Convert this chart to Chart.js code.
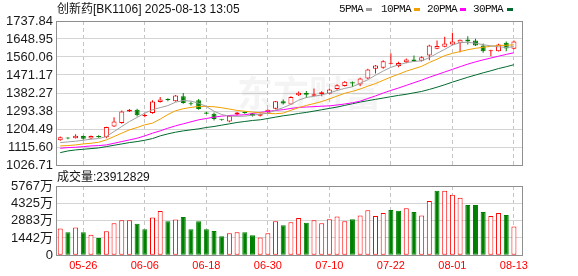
<!DOCTYPE html>
<html>
<head>
<meta charset="utf-8">
<script src="https://cdn.jsdelivr.net/npm/chart.js@4.4.1/dist/chart.umd.min.js"></script>
<style>
  body { margin: 0; background: #fff; }
  #box { position: relative; width: 578px; height: 276px; overflow: hidden; }
  #box canvas { position: absolute; left: 0; top: 0; }
  .txt { position: absolute; font: 12px "Liberation Sans", "Noto Sans CJK SC", sans-serif; color: #111; white-space: nowrap; line-height: 14px; }
  .leg { font-family: "Liberation Mono", "Noto Sans CJK SC", monospace; font-size: 11px; letter-spacing: -0.6px; }
  .sw { position: absolute; width: 6px; height: 3px; top: 8px; }
</style>
</head>
<body>
<div id="box">
  <canvas id="kline" width="578" height="276"></canvas>
  <canvas id="vol" width="578" height="276"></canvas>
  <div class="txt" style="left:57px;top:2px">创新药[BK1106] 2025-08-13 13:05</div>
  <div class="txt leg" style="left:339px;top:2px">5PMA</div>
  <div class="sw" style="left:366px;background:#a0a0a0"></div>
  <div class="txt leg" style="left:381px;top:2px">10PMA</div>
  <div class="sw" style="left:414px;background:#f0a000"></div>
  <div class="txt leg" style="left:427px;top:2px">20PMA</div>
  <div class="sw" style="left:460px;background:#ff00ff"></div>
  <div class="txt leg" style="left:473px;top:2px">30PMA</div>
  <div class="sw" style="left:507px;background:#006a30"></div>
  <div class="txt" style="left:57px;top:170px">成交量:23912829</div>
</div>
<script>
const dates = ['05-21','05-22','05-23','05-26','05-27','05-28','05-29','05-30','06-03','06-04',
  '06-05','06-06','06-09','06-10','06-11','06-12','06-13','06-16','06-17','06-18',
  '06-19','06-20','06-23','06-24','06-25','06-26','06-27','06-30','07-01','07-02',
  '07-03','07-04','07-07','07-08','07-09','07-10','07-11','07-14','07-15','07-16',
  '07-17','07-18','07-21','07-22','07-23','07-24','07-25','07-28','07-29','07-30',
  '07-31','08-01','08-04','08-05','08-06','08-07','08-08','08-11','08-12','08-13'];

const open = [1149,1161,1159,1170,1158,1170,1164,1217,1234,1291,1300,1269,1283,1338,1351,1341,1366,1330,1346,1286,
  1280,1252,1242,1276,1289,1280,1270,1288,1305,1342,1326,1371,1382,1369,1376,1379,1402,1417,1435,1424,
  1454,1502,1507,1527,1515,1534,1548,1541,1568,1601,1611,1622,1631,1647,1642,1617,1588,1589,1631,1601];
const high = [1167,1164,1179,1172,1173,1174,1216,1263,1296,1303,1305,1280,1347,1362,1356,1372,1382,1340,1353,1290,
  1286,1253,1273,1288,1291,1284,1281,1302,1343,1350,1366,1390,1392,1404,1391,1405,1425,1441,1439,1457,
  1502,1521,1544,1578,1536,1553,1568,1564,1620,1642,1660,1680,1647,1663,1650,1627,1596,1626,1637,1641];
const low = [1147,1154,1157,1151,1155,1161,1159,1214,1230,1288,1266,1262,1280,1335,1342,1339,1329,1320,1300,1277,
  1247,1245,1238,1273,1280,1266,1266,1281,1302,1326,1325,1368,1357,1366,1366,1376,1398,1414,1412,1415,
  1451,1478,1502,1524,1510,1529,1536,1538,1544,1598,1608,1619,1584,1622,1614,1581,1564,1587,1589,1598];
const close = [1164,1158,1171,1156,1170,1164,1214,1242,1291,1300,1272,1270,1340,1350,1348,1370,1333,1327,1303,1280,
  1254,1250,1270,1286,1284,1270,1279,1300,1341,1331,1363,1383,1374,1376,1386,1399,1420,1438,1429,1454,
  1498,1518,1539,1532,1530,1548,1539,1559,1617,1614,1627,1637,1645,1637,1617,1589,1594,1622,1602,1636];

// volume in 万
const volume = [2222,1913,2307,1913,1716,1435,1997,2672,2926,2926,2616,2166,3151,3685,2841,2982,3179,2166,2841,2166,
  2025,1575,1829,1913,1913,1660,1491,1829,2841,2504,2757,3094,2701,2926,2672,3010,3235,2841,3010,3320,
  3741,3263,3516,3770,3713,3910,3601,3320,4529,5373,5373,5035,4782,4192,4192,3601,3263,3516,3348,2391.2829];

const ma5 = [1137.4,1140.7,1144.1,1149.0,1154.0,1157.3,1167.2,1192.0,1216.8,1241.6,1261.5,1283.0,1299.5,1310,1320,1337,1345,1342,1332,1316,
  1292,1276,1268,1267,1268,1273,1277,1283,1297,1310,1326,1347,1360,1366,1373,1382,1395,1405,1413,1430,
  1448,1470,1491,1509,1521,1532,1538,1541,1557,1578,1598,1619,1631,1633,1628,1621,1615,1611,1607,1611];
const ma10 = [1120.9,1122.6,1125.9,1130.8,1134.1,1139.1,1150.7,1167.2,1183.8,1200.3,1211.9,1225.1,1233.4,1253.2,1276,1294.6,1304.5,1311.1,1316.1,1316.1,
  1314.4,1309.5,1302.9,1296.2,1292,1288.0,1284.6,1281.3,1280,1283,1297,1310,1321,1330,1340,1353,1367,1381,1390,1402,
  1416,1429,1445,1461,1475,1490,1502,1514,1533,1549,1567,1578,1587,1596,1603,1608,1613,1617,1618,1620];
const ma20 = [1109.3,1112.6,1114.3,1117.6,1120.9,1122.6,1125.9,1134.1,1142.4,1150.7,1158.9,1170.6,1183.8,1195.3,1208.6,1220.1,1230.1,1240.0,1249.9,1256.5,
  1263.1,1268.1,1271.4,1273.1,1274.7,1281.3,1286.3,1291.3,1296.2,1300,1306,1311,1313,1315,1317,1319,1323,1328,1334,1342,
  1355,1368,1382,1395,1407,1420,1433,1446,1460,1473,1486,1499,1512,1525,1536,1546,1555,1564,1573,1581];
const ma30 = [1087.8,1096.1,1101.1,1104.4,1107.7,1111.0,1117.6,1124.2,1130.8,1137.4,1142.4,1149.0,1157.3,1170.6,1180.4,1188.7,1195.3,1200.3,1205.3,1211.9,
  1216.9,1223.4,1230.1,1236.7,1241.6,1246.6,1249.9,1256.5,1263.1,1269.8,1274.7,1281.3,1286.3,1292.9,1299.5,1306.2,1312.8,1321.1,1329.3,1337.6,
  1344.2,1350.8,1357.4,1364.0,1370.5,1376,1383,1390,1400,1411,1423,1436,1448,1460,1471,1482,1492,1503,1512,1522];

const priceTicks = [1026.71,1115.60,1204.49,1293.38,1382.27,1471.17,1560.06,1648.95,1737.84];
const volTicks = [0,1442,2883,4325,5767];
const dateTicks = ['05-26','06-06','06-18','06-30','07-10','07-22','08-01','08-13'];

const UP = '#ff0000', DOWN = '#008000';
const candleUp = open.map((o, i) => close[i] >= o);
const volUp = close.map((c, i) => i === 0 ? c >= open[0] : c >= close[i - 1]);
const dateIdx = dateTicks.map(d => dates.indexOf(d));
const pts = arr => arr.map((v, i) => ({ x: i, y: v }));

Chart.defaults.font.family = '"Liberation Sans", "Noto Sans CJK SC", sans-serif';

const frame = {
  id: 'frame',
  beforeDatasetsDraw(chart, args, opts) {
    if (!opts.mark) return;
    const { ctx } = chart;
    ctx.save();
    ctx.font = 'bold 36px "Noto Sans CJK SC"';
    ctx.fillStyle = 'rgba(110,110,110,0.08)';
    ctx.textBaseline = 'middle';
    ctx.fillText(opts.mark, 237, 93);
    ctx.restore();
  },
  afterDraw(chart) {
    const { ctx, chartArea: a } = chart;
    ctx.save();
    ctx.strokeStyle = '#8f8f8f';
    ctx.lineWidth = 1;
    ctx.strokeRect(Math.floor(a.left) + 0.5, Math.floor(a.top) + 0.5,
      Math.round(a.right - a.left), Math.round(a.bottom - a.top));
    ctx.restore();
  }
};

function xAxis(showLabels) {
  return {
    type: 'linear', min: -0.55, max: dates.length + 0.05, offset: false,
    afterBuildTicks: s => { s.ticks = dateIdx.map(v => ({ value: v })); },
    afterFit: s => { s.height = showLabels ? 20.7 : 0; },
    ticks: {
      display: showLabels, autoSkip: false, maxRotation: 0, padding: 4,
      color: '#ff0000', font: { size: 11 },
      callback: v => dates[v]
    },
    grid: { color: '#c4c4c4', drawTicks: false, offset: false },
    border: { display: false, dash: [4, 3] }
  };
}

function yAxis(ticks, label) {
  return {
    min: ticks[0], max: ticks[ticks.length - 1],
    afterBuildTicks: s => { s.ticks = ticks.map(v => ({ value: v })); },
    afterFit: s => { s.width = 56; },
    ticks: { padding: 3, autoSkip: false, color: '#1a1a1a', font: { size: 13 }, callback: label },
    grid: { color: '#d4d4d4', drawTicks: false },
    border: { display: false }
  };
}

const maLine = (label, data, color) => ({
  type: 'line', label, data: pts(data), borderColor: color, borderWidth: 1,
  pointRadius: 0, tension: 0, order: 0
});

new Chart(document.getElementById('kline'), {
  type: 'bar',
  data: {
    datasets: [
      maLine('5PMA', ma5, '#a0a0a0'),
      maLine('10PMA', ma10, '#f0a000'),
      maLine('20PMA', ma20, '#ff00ff'),
      maLine('30PMA', ma30, '#006a30'),
      {
        label: 'body', order: 1, grouped: false,
        data: open.map((o, i) => ({ x: i, y: [o, close[i]] })),
        backgroundColor: candleUp.map(u => u ? '#ffffff' : DOWN),
        borderColor: candleUp.map(u => u ? UP : DOWN),
        borderWidth: 1, borderSkipped: false, barThickness: 5, minBarLength: 1, inflateAmount: 0
      },
      {
        label: 'wick', order: 2, grouped: false,
        data: low.map((l, i) => ({ x: i, y: [l, high[i]] })),
        backgroundColor: candleUp.map(u => u ? UP : DOWN),
        borderWidth: 0, barThickness: 1, inflateAmount: 0
      }
    ]
  },
  options: {
    responsive: false, animation: false, events: [], devicePixelRatio: 1,
    layout: { padding: { left: 0, right: 56, top: 21, bottom: 111 } },
    plugins: { legend: { display: false }, tooltip: { enabled: false }, frame: { mark: '东方财富' } },
    scales: {
      x: xAxis(false),
      y: yAxis(priceTicks, v => Number(v).toFixed(2))
    }
  },
  plugins: [frame]
});

new Chart(document.getElementById('vol'), {
  type: 'bar',
  data: {
    datasets: [{
      label: 'volume', grouped: false,
      data: pts(volume),
      backgroundColor: volUp.map(u => u ? '#ffffff' : DOWN),
      borderColor: volUp.map(u => u ? UP : DOWN),
      borderWidth: 1, borderSkipped: false, barThickness: 5, inflateAmount: 0
    }]
  },
  options: {
    responsive: false, animation: false, events: [], devicePixelRatio: 1,
    layout: { padding: { left: 0, right: 56, top: 186, bottom: 0 } },
    plugins: { legend: { display: false }, tooltip: { enabled: false } },
    scales: {
      x: xAxis(true),
      y: yAxis(volTicks, v => v === 0 ? '0' : v + '万')
    }
  },
  plugins: [frame]
});
</script>
</body>
</html>
